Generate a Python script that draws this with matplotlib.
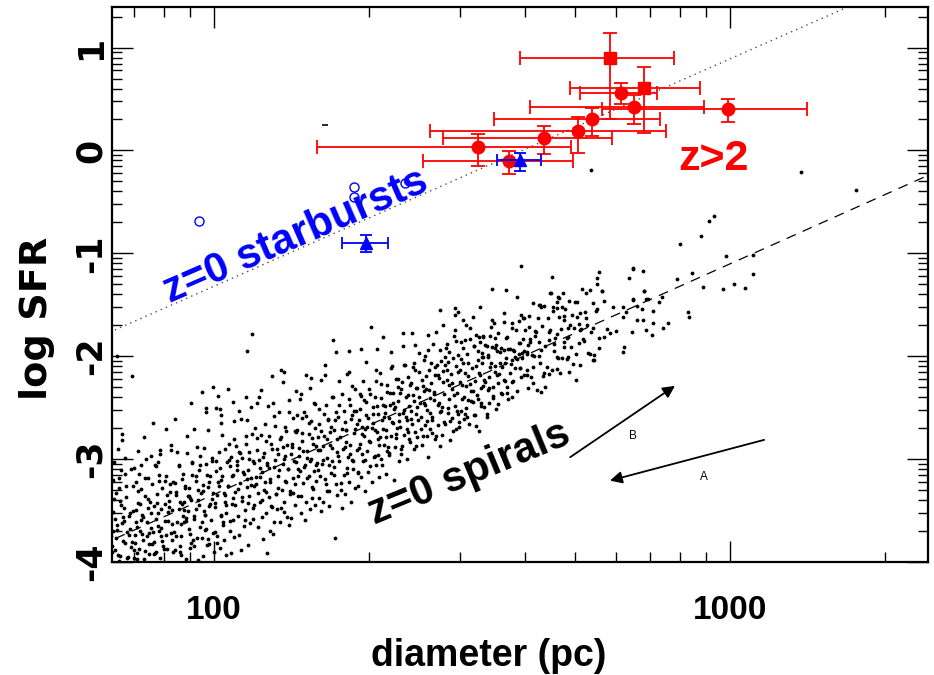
import numpy as np
import matplotlib
matplotlib.use('Agg')
import matplotlib.pyplot as plt
from matplotlib import font_manager
from matplotlib.ticker import FixedLocator, NullFormatter

# z>2 galaxies: diameter (pc), diameter range, log SFR, log SFR range
hiz_sq_diam = [585, 682]
hiz_sq_diam_lo = [392, 490]
hiz_sq_diam_hi = [778, 875]
hiz_sq_sfr = [0.900, 0.604]
hiz_sq_sfr_lo = [0.306, 0.173]
hiz_sq_sfr_hi = [1.145, 0.814]

hiz_diam = [615, 650, 990, 541, 507, 435, 325, 373]
hiz_diam_lo = [512, 409, 564, 348, 262, 278, 158, 254]
hiz_diam_hi = [721, 891, 1409, 731, 751, 590, 492, 495]
hiz_sfr = [0.556, 0.426, 0.403, 0.306, 0.192, 0.124, 0.037, -0.099]
hiz_sfr_lo = [0.452, 0.258, 0.280, 0.144, -0.020, -0.034, -0.148, -0.228]
hiz_sfr_hi = [0.659, 0.539, 0.500, 0.413, 0.328, 0.238, 0.157, -0.002]

# z=0 starbursts
sb_tri_diam = [392, 197]
sb_tri_diam_lo = [353, 177]
sb_tri_diam_hi = [430, 217]
sb_tri_sfr = [-0.092, -0.900]
sb_tri_sfr_lo = [-0.196, -0.990]
sb_tri_sfr_hi = [-0.021, -0.820]
sb_open_diam = [93.5, 187, 187, 234]
sb_open_sfr = [-0.69, -0.36, -0.45, -0.32]

# reference relations
line_diam = [60, 2500]
sb_line_sfr = [-1.81, 1.77]
sp_line_sfr = [-3.84, -0.21]

# z=0 spirals: (log diameter, log SFR)
spiral_points = [
    (1.803,-3.905),(1.811,-3.642),(1.806,-3.388),(1.815,-3.991),(1.809,-3.771),(1.819,-3.102),(1.824,-3.563),(1.802,-3.848),
    (1.828,-2.992),(1.831,-3.709),(1.816,-3.284),(1.834,-4.018),(1.822,-3.617),(1.838,-3.852),(1.805,-3.206),(1.826,-3.471),
    (1.813,-3.931),(1.836,-3.736),(1.821,-2.818),(1.829,-3.263),(1.808,-3.582),(1.833,-3.947),(1.818,-3.405),(1.837,-3.524),
    (1.811,-2.001),(1.839,-3.094),(1.804,-3.698),(1.827,-3.812),(1.814,-2.902),(1.822,-2.755),
    (1.841,-2.190),(1.845,-3.881),(1.843,-3.507),(1.851,-3.969),(1.848,-3.226),(1.856,-3.699),(1.853,-2.917),(1.859,-3.591),
    (1.862,-4.008),(1.847,-3.818),(1.866,-3.362),(1.869,-3.752),(1.858,-3.061),(1.874,-3.922),(1.871,-3.478),(1.877,-3.668),
    (1.864,-2.788),(1.879,-3.829),(1.852,-3.311),(1.844,-3.957),(1.861,-3.548),(1.873,-3.719),(1.855,-3.142),(1.867,-3.893),
    (1.876,-3.415),(1.849,-3.607),(1.872,-3.184),(1.857,-3.433),(1.878,-2.965),(1.863,-3.786),
    (1.882,-2.645),(1.884,-3.809),(1.889,-3.426),(1.886,-3.914),(1.893,-3.158),(1.897,-3.667),(1.891,-3.521),(1.902,-3.996),
    (1.895,-2.951),(1.906,-3.738),(1.899,-3.281),(1.909,-3.875),(1.904,-3.598),(1.912,-3.405),(1.915,-4.025),(1.887,-3.071),
    (1.918,-3.784),(1.908,-3.352),(1.883,-3.927),(1.911,-3.514),(1.894,-3.695),(1.917,-2.866),(1.901,-3.842),(1.914,-3.239),
    (1.888,-3.582),(1.905,-3.211),(1.896,-3.961),(1.913,-3.462),(1.919,-3.635),(1.892,-3.025),(1.907,-2.712),(1.898,-3.744),
    (1.923,-3.706),(1.926,-3.318),(1.921,-3.898),(1.931,-3.484),(1.929,-2.934),(1.935,-3.627),(1.938,-3.195),(1.933,-3.846),
    (1.942,-3.419),(1.945,-3.975),(1.939,-3.557),(1.948,-2.776),(1.951,-3.684),(1.944,-3.263),(1.955,-3.812),(1.953,-3.379),
    (1.958,-3.041),(1.927,-3.748),(1.949,-3.506),(1.936,-3.928),(1.957,-3.151),(1.941,-3.609),(1.925,-2.608),(1.952,-3.355),
    (1.932,-3.069),(1.946,-3.572),(1.954,-3.866),(1.924,-3.228),(1.959,-3.784),(1.937,-3.441),(1.943,-4.003),(1.956,-2.457),
    (1.962,-3.586),(1.965,-3.214),(1.961,-3.847),(1.969,-3.398),(1.967,-2.879),(1.973,-3.655),(1.971,-3.104),(1.977,-3.766),
    (1.975,-3.332),(1.976,-2.352),(1.981,-3.508),(1.979,-3.938),(1.985,-3.043),(1.983,-3.691),(1.988,-3.271),(1.986,-3.831),
    (1.991,-3.455),(1.989,-2.718),(1.994,-3.596),(1.993,-3.165),(1.997,-3.722),(1.996,-3.391),(1.998,-2.298),(1.999,-3.905),
    (1.964,-3.486),(1.972,-2.965),(1.982,-3.544),(1.990,-3.822),(1.995,-3.014),(1.978,-3.249),(1.968,-3.981),(1.984,-2.545),
    (1.985,-2.506),
    (2.002,-3.468),(2.004,-3.119),(2.001,-3.706),(2.007,-2.384),(2.006,-3.346),(2.011,-3.864),(2.009,-2.931),(2.014,-3.552),
    (2.013,-3.203),(2.018,-3.644),(2.016,-2.765),(2.021,-3.416),(2.019,-3.789),(2.025,-3.031),(2.023,-3.521),(2.027,-2.314),
    (2.026,-3.262),(2.031,-3.697),(2.029,-2.855),(2.034,-3.436),(2.032,-3.911),(2.037,-3.155),(2.036,-3.588),(2.039,-2.629),
    (2.005,-3.815),(2.012,-2.513),(2.022,-3.344),(2.030,-3.066),(2.038,-3.755),(2.017,-3.612),(2.008,-3.227),(2.033,-2.982),
    (2.024,-3.928),(2.003,-2.506),(2.013,-2.571),
    (2.041,-3.318),(2.043,-2.874),(2.046,-3.552),(2.044,-3.102),(2.049,-3.741),(2.052,-2.611),(2.050,-3.229),(2.055,-3.406),
    (2.054,-2.985),(2.058,-3.653),(2.057,-3.147),(2.061,-2.772),(2.060,-3.492),(2.064,-1.950),(2.063,-3.271),(2.066,-3.838),
    (2.068,-2.934),(2.067,-3.363),(2.071,-2.489),(2.073,-1.782),(2.072,-3.185),(2.075,-3.584),(2.076,-3.021),(2.079,-2.698),
    (2.078,-3.442),(2.045,-3.016),(2.053,-3.887),(2.062,-2.392),(2.070,-3.617),(2.077,-3.266),(2.048,-2.535),(2.065,-3.105),
    (2.081,-3.237),(2.083,-2.791),(2.085,-3.658),(2.087,-3.012),(2.089,-3.415),(2.090,-2.327),(2.092,-3.124),(2.094,-3.781),
    (2.096,-2.943),(2.097,-3.296),(2.099,-2.662),(2.101,-3.527),(2.103,-3.058),(2.104,-2.488),(2.106,-3.372),(2.108,-3.189),
    (2.109,-3.701),(2.111,-2.856),(2.113,-3.463),(2.114,-3.727),(2.116,-2.584),(2.118,-3.013),(2.119,-3.335),(2.084,-2.452),
    (2.093,-3.564),(2.100,-2.821),(2.107,-3.082),(2.112,-2.197),(2.117,-3.612),(2.088,-3.173),(2.102,-3.915),
    (2.121,-3.482),(2.122,-2.905),(2.124,-3.163),(2.126,-2.538),(2.127,-3.609),(2.129,-2.781),(2.131,-3.304),(2.133,-3.047),
    (2.134,-2.246),(2.136,-3.412),(2.138,-2.683),(2.139,-3.225),(2.141,-3.561),(2.142,-2.862),(2.144,-3.098),(2.146,-2.426),
    (2.147,-3.337),(2.149,-2.951),(2.150,-3.575),(2.152,-3.182),(2.153,-2.604),(2.155,-3.015),(2.157,-3.448),(2.158,-2.741),
    (2.123,-3.278),(2.130,-2.132),(2.137,-2.972),(2.145,-3.644),(2.151,-2.857),(2.156,-3.246),(2.159,-2.337),(2.135,-3.517),
    (2.161,-2.718),(2.163,-3.357),(2.164,-2.972),(2.166,-3.114),(2.168,-2.369),(2.169,-3.526),(2.171,-2.828),(2.173,-3.232),
    (2.174,-2.544),(2.176,-3.061),(2.178,-3.421),(2.179,-2.185),(2.181,-2.917),(2.183,-3.168),(2.184,-2.647),(2.186,-3.484),
    (2.188,-3.003),(2.189,-2.791),(2.191,-3.295),(2.193,-2.458),(2.194,-3.118),(2.196,-3.447),(2.197,-2.876),(2.199,-3.037),
    (2.162,-3.093),(2.170,-2.601),(2.177,-3.592),(2.185,-2.311),(2.190,-3.377),(2.195,-2.702),(2.198,-3.209),(2.180,-2.994),
    (2.201,-3.106),(2.203,-2.659),(2.204,-3.381),(2.206,-2.914),(2.208,-2.227),(2.209,-3.052),(2.211,-3.412),(2.213,-2.774),
    (2.214,-3.195),(2.216,-2.476),(2.218,-2.988),(2.219,-3.306),(2.221,-2.612),(2.223,-3.458),(2.224,-2.865),(2.226,-3.137),
    (2.228,-2.393),(2.229,-3.019),(2.231,-1.842),(2.232,-2.718),(2.234,-3.769),(2.236,-3.246),(2.237,-2.541),(2.239,-2.932),
    (2.202,-2.785),(2.207,-3.504),(2.215,-2.083),(2.222,-3.314),(2.227,-2.691),(2.233,-3.074),(2.238,-3.345),(2.212,-2.873),
    (2.241,-2.593),(2.243,-3.021),(2.244,-2.782),(2.246,-3.305),(2.248,-2.367),(2.249,-2.904),(2.251,-3.158),(2.253,-2.638),
    (2.254,-3.342),(2.256,-2.716),(2.258,-2.175),(2.259,-2.984),(2.261,-3.227),(2.263,-2.478),(2.264,-2.861),(2.266,-3.416),
    (2.268,-2.571),(2.269,-3.093),(2.271,-2.742),(2.273,-2.322),(2.274,-3.276),(2.276,-2.908),(2.277,-2.654),(2.279,-3.131),
    (2.242,-2.236),(2.247,-3.478),(2.255,-2.829),(2.262,-1.953),(2.267,-3.011),(2.272,-2.535),(2.278,-3.263),(2.257,-3.087),
    (2.281,-2.893),(2.283,-2.512),(2.284,-3.174),(2.286,-2.687),(2.288,-2.238),(2.289,-3.016),(2.291,-2.774),(2.293,-3.312),
    (2.294,-2.445),(2.296,-2.921),(2.298,-2.604),(2.299,-3.128),(2.301,-2.317),(2.303,-2.835),(2.305,-1.719),(2.306,-3.226),
    (2.308,-2.563),(2.309,-2.978),(2.311,-2.721),(2.313,-2.138),(2.314,-3.058),(2.316,-2.482),(2.318,-2.806),(2.319,-3.177),
    (2.282,-2.364),(2.287,-2.951),(2.295,-2.059),(2.302,-3.069),(2.307,-2.648),(2.312,-2.392),(2.317,-2.957),(2.292,-2.709),
    (2.321,-2.785),(2.323,-2.403),(2.324,-2.996),(2.326,-2.617),(2.328,-1.816),(2.329,-2.864),(2.331,-2.482),(2.333,-3.145),
    (2.334,-2.716),(2.336,-2.281),(2.338,-2.598),(2.339,-2.937),(2.341,-2.354),(2.343,-2.775),(2.344,-2.091),(2.346,-2.649),
    (2.348,-3.202),(2.349,-2.513),(2.351,-2.882),(2.353,-2.226),(2.354,-2.694),(2.356,-2.431),(2.358,-3.017),(2.359,-2.562),
    (2.322,-2.164),(2.327,-2.704),(2.335,-2.921),(2.342,-1.958),(2.347,-2.459),(2.352,-2.759),(2.357,-2.302),(2.332,-2.553),
    (2.361,-2.692),(2.363,-2.318),(2.364,-2.871),(2.366,-2.547),(2.368,-2.083),(2.369,-2.763),(2.371,-2.401),(2.373,-2.995),
    (2.374,-2.616),(2.376,-2.202),(2.378,-2.484),(2.379,-2.829),(2.381,-2.257),(2.383,-1.777),(2.384,-2.658),(2.386,-2.372),
    (2.388,-2.903),(2.389,-2.129),(2.391,-2.566),(2.393,-2.788),(2.394,-2.311),(2.396,-2.624),(2.398,-1.972),(2.399,-2.452),
    (2.362,-2.948),(2.367,-1.904),(2.375,-2.736),(2.382,-2.528),(2.387,-2.066),(2.392,-2.875),(2.397,-2.392),(2.372,-2.587),
    (2.401,-2.586),(2.403,-2.227),(2.404,-2.774),(2.406,-2.452),(2.408,-1.998),(2.409,-2.665),(2.411,-2.314),(2.413,-2.518),
    (2.415,-2.976),(2.416,-2.135),(2.418,-2.403),(2.419,-2.712),(2.421,-2.262),(2.423,-2.591),(2.424,-1.883),(2.426,-2.346),
    (2.428,-2.809),(2.429,-2.178),(2.431,-1.761),(2.433,-2.477),(2.434,-2.664),(2.436,-2.212),(2.438,-2.539),(2.439,-2.051),
    (2.402,-2.861),(2.407,-2.342),(2.414,-1.936),(2.422,-2.751),(2.427,-2.424),(2.432,-2.087),(2.437,-2.871),(2.412,-2.629),
    (2.441,-2.493),(2.443,-2.141),(2.444,-1.696),(2.446,-2.367),(2.448,-2.662),(2.449,-1.921),(2.451,-2.228),(2.453,-2.547),
    (2.454,-2.056),(2.456,-2.412),(2.457,-2.814),(2.459,-2.169),(2.461,-2.596),(2.462,-2.322),(2.464,-1.807),(2.466,-2.482),
    (2.468,-2.703),(2.469,-2.095),(2.471,-2.361),(2.473,-1.987),(2.474,-2.635),(2.476,-2.248),(2.478,-2.529),(2.479,-1.858),
    (2.442,-2.768),(2.447,-2.009),(2.455,-2.279),(2.463,-2.731),(2.467,-1.742),(2.472,-2.557),(2.477,-2.136),(2.452,-1.882),
    (2.481,-2.416),(2.483,-2.067),(2.484,-2.614),(2.486,-1.842),(2.488,-2.289),(2.489,-2.503),(2.491,-1.976),(2.493,-2.194),
    (2.494,-2.657),(2.496,-1.728),(2.498,-2.335),(2.499,-2.117),(2.501,-2.448),(2.503,-1.903),(2.504,-2.572),(2.506,-2.241),
    (2.508,-1.789),(2.509,-2.379),(2.511,-2.035),(2.513,-2.726),(2.514,-2.164),(2.516,-1.857),(2.518,-2.453),(2.519,-2.012),
    (2.482,-1.652),(2.487,-2.558),(2.495,-2.273),(2.502,-1.615),(2.507,-2.682),(2.512,-1.954),(2.517,-2.311),(2.492,-2.428),
    (2.467,-1.534),(2.472,-1.573),(2.524,-2.498),(2.533,-2.455),(2.546,-2.517),(2.528,-2.562),(2.551,-2.468),
    (2.594,-1.122),(2.654,-1.233),(2.652,-1.388),(2.669,-1.430),(2.656,-1.518),(2.665,-1.534),(2.674,-1.524),(2.630,-1.501),
    (2.633,-1.524),(2.679,-1.608),(2.679,-1.647),(2.811,-1.152),(2.832,-1.168),(2.805,-1.242),(2.752,-1.365),(2.756,-1.463),
    (2.774,-1.524),(2.793,-1.518),(2.798,-1.566),(2.811,-1.453),(2.833,-1.365),(2.819,-1.511),(2.830,-1.544),(2.838,-1.446),
    (2.850,-1.560),(2.868,-1.420),(2.862,-1.476),(2.820,-1.647),(2.831,-1.647),(2.850,-1.680),(2.870,-1.728),(2.879,-1.680),
    (2.838,-1.744),(2.848,-1.793),(2.809,-1.761),(2.792,-1.621),(2.779,-1.751),(2.767,-1.777),(2.756,-1.809),(2.761,-1.735),
    (2.742,-1.544),(2.735,-1.728),(2.721,-1.631),(2.709,-1.576),(2.704,-1.621),(2.711,-1.738),(2.708,-1.868),(2.685,-1.816),
    (2.664,-1.783),(2.650,-1.761),(2.650,-1.842),(2.659,-1.884),(2.678,-1.906),(2.685,-2.004),(2.664,-2.004),(2.674,-2.020),
    (2.729,-1.978),(2.737,-2.036),(2.795,-1.906),(2.793,-1.961),(2.633,-1.939),(2.630,-1.997),(2.622,-1.754),(2.622,-1.803),
    (2.612,-1.835),(2.598,-1.835),(2.592,-1.874),(2.609,-1.890),(2.601,-1.945),(2.590,-1.978),(2.607,-1.981),(2.616,-1.987),
    (2.596,-2.020),(2.587,-2.029),(2.577,-2.036),(2.583,-2.010),(2.579,-1.939),(2.570,-1.932),(2.561,-1.939),(2.554,-1.955),
    (2.549,-1.945),(2.545,-1.923),(2.538,-1.906),(2.528,-1.900),(2.530,-2.004),(2.522,-2.004),(2.519,-2.068),(2.545,-2.094),
    (2.554,-2.068),(2.564,-2.062),(2.557,-2.101),(2.535,-2.101),(2.548,-2.182),(2.532,-2.198),(2.525,-2.247),(2.522,-2.289),
    (2.530,-2.328),(2.541,-2.295),(2.551,-2.256),(2.561,-2.230),(2.574,-2.166),(2.583,-2.117),(2.592,-2.117),(2.594,-2.198),
    (2.606,-2.133),(2.606,-2.182),(2.619,-2.107),(2.640,-2.159),(2.650,-2.172),(2.665,-2.127),(2.688,-2.149),(2.701,-2.230),
    (2.641,-2.295),(2.633,-2.350),(2.619,-2.263),(2.577,-2.247),(2.567,-2.295),(2.556,-2.360),(2.567,-2.360),(2.577,-2.399),
    (2.541,-2.408),(2.522,-1.803),(2.538,-1.647),(2.536,-1.718),(2.561,-1.576),(2.577,-1.728),(2.590,-1.654),(2.601,-1.631),
    (2.611,-1.718),(2.545,-1.825),(2.566,-1.825),(2.522,-1.809),(2.632,-1.502),(2.651,-1.388),(2.667,-1.421),(2.683,-1.825),
    (2.709,-1.745),(2.735,-2.036),(2.599,-1.631),(2.700,-1.470),(2.720,-1.390),(2.742,-1.300),(2.690,-1.700),(2.715,-1.830),
    (2.745,-1.920),
    (2.730,-0.190),(3.138,-0.206),(3.245,-0.384),(2.969,-0.634),(2.959,-0.682),(2.943,-0.831),(2.902,-0.912),(2.992,-1.025),
    (3.045,-1.016),(3.045,-1.200),(2.927,-1.193),(2.897,-1.252),(2.948,-1.323),(2.986,-1.343),(3.008,-1.297),(3.028,-1.339),
    (2.745,-1.178),(2.751,-1.365),(2.811,-1.145),(2.834,-1.365),(2.811,-1.440),(2.840,-1.446),(2.919,-1.570),(2.921,-1.620),
    # denser core of the spiral cloud
    (1.801,-3.752),(1.804,-3.511),(1.807,-3.884),(1.810,-3.325),(1.812,-3.689),(1.817,-3.943),(1.820,-3.447),(1.823,-3.798),
    (1.825,-3.602),(1.830,-3.371),(1.832,-3.957),(1.835,-3.553),(1.837,-3.678),(1.840,-3.802),(1.843,-3.262),(1.846,-3.734),
    (1.848,-3.491),(1.850,-3.916),(1.806,-3.031),(1.815,-3.185),(1.828,-3.145),(1.844,-3.084),
    (1.851,-3.655),(1.853,-3.422),(1.855,-3.871),(1.858,-3.294),(1.860,-3.731),(1.862,-3.563),(1.865,-3.972),(1.867,-3.187),
    (1.870,-3.614),(1.872,-3.386),(1.874,-3.826),(1.877,-3.519),(1.879,-3.246),(1.882,-3.705),(1.884,-3.458),(1.887,-3.902),
    (1.889,-3.337),(1.892,-3.648),(1.894,-3.215),(1.897,-3.481),(1.899,-3.793),(1.868,-2.995),(1.885,-3.062),(1.896,-2.915),
    (1.902,-3.869),(1.905,-3.432),(1.907,-3.168),(1.911,-3.599),(1.914,-3.322),(1.916,-3.718),(1.919,-3.491),(1.921,-3.226),
    (1.924,-3.880),(1.926,-3.345),(1.929,-3.609),(1.931,-3.054),(1.934,-3.417),(1.936,-3.743),(1.939,-3.146),(1.941,-3.492),
    (1.943,-3.277),(1.946,-3.601),(1.948,-2.936),(1.950,-3.362),(1.917,-2.915),(1.933,-3.900),
    (1.951,-3.279),(1.953,-3.725),(1.956,-3.398),(1.958,-3.024),(1.961,-3.557),(1.964,-3.160),(1.966,-3.766),(1.968,-3.301),
    (1.971,-3.444),(1.973,-3.060),(1.976,-3.613),(1.978,-3.309),(1.981,-2.892),(1.983,-3.548),(1.986,-3.151),(1.988,-3.776),
    (1.991,-3.220),(1.993,-3.435),(1.996,-2.989),(1.998,-3.334),(1.962,-2.705),(1.984,-3.675),
    (2.001,-3.427),(2.004,-3.021),(2.006,-3.746),(2.009,-3.260),(2.011,-3.085),(2.014,-3.548),(2.016,-3.164),(2.019,-3.327),
    (2.021,-2.903),(2.024,-3.446),(2.026,-3.262),(2.029,-3.005),(2.031,-3.600),(2.034,-3.164),(2.036,-3.379),(2.039,-2.802),
    (2.041,-3.448),(2.044,-3.061),(2.046,-3.287),(2.049,-2.930),(2.013,-2.651),(2.037,-2.447),
    (2.051,-2.945),(2.054,-3.369),(2.056,-3.124),(2.059,-3.588),(2.061,-2.853),(2.063,-3.189),(2.066,-3.422),(2.068,-2.997),
    (2.071,-3.250),(2.073,-2.756),(2.076,-3.479),(2.078,-3.035),(2.081,-3.178),(2.083,-2.914),(2.085,-3.329),(2.088,-3.082),
    (2.090,-2.768),(2.093,-3.401),(2.095,-2.977),(2.098,-3.220),(2.064,-2.616),(2.087,-2.395),
    (2.101,-3.323),(2.103,-3.039),(2.106,-2.772),(2.108,-3.218),(2.111,-3.451),(2.113,-2.906),(2.116,-3.080),(2.118,-2.675),
    (2.120,-3.341),(2.123,-2.954),(2.125,-3.110),(2.128,-2.803),(2.130,-3.478),(2.133,-2.882),(2.135,-2.997),(2.138,-3.210),
    (2.140,-2.726),(2.143,-3.099),(2.145,-2.545),(2.148,-3.308),(2.114,-2.454),(2.136,-2.155),
    (2.151,-2.881),(2.153,-3.327),(2.156,-2.730),(2.158,-3.025),(2.161,-2.569),(2.163,-3.164),(2.165,-2.890),(2.168,-3.363),
    (2.170,-2.749),(2.173,-2.922),(2.175,-3.078),(2.178,-2.581),(2.180,-3.186),(2.183,-2.760),(2.185,-3.015),(2.187,-2.631),
    (2.190,-3.274),(2.192,-2.850),(2.195,-2.463),(2.197,-3.058),(2.166,-2.418),(2.188,-2.208),
    (2.201,-2.909),(2.204,-2.512),(2.206,-3.168),(2.208,-2.723),(2.211,-3.007),(2.213,-2.562),(2.216,-3.246),(2.218,-2.801),
    (2.221,-2.624),(2.223,-3.060),(2.225,-2.735),(2.228,-2.889),(2.230,-2.394),(2.233,-3.158),(2.235,-2.623),(2.238,-2.806),
    (2.240,-2.972),(2.243,-2.475),(2.245,-3.231),(2.248,-2.704),(2.214,-2.180),(2.236,-1.961),
    (2.251,-2.537),(2.253,-2.883),(2.256,-2.716),(2.258,-3.132),(2.261,-2.415),(2.263,-2.951),(2.266,-2.614),(2.268,-2.289),
    (2.270,-3.015),(2.273,-2.708),(2.275,-2.534),(2.278,-3.127),(2.280,-2.622),(2.283,-2.856),(2.285,-2.391),(2.287,-2.757),
    (2.290,-2.430),(2.292,-3.005),(2.295,-2.569),(2.297,-2.684),(2.262,-2.153),(2.284,-1.934),
    (2.301,-2.825),(2.303,-2.371),(2.306,-2.694),(2.308,-2.490),(2.311,-2.973),(2.313,-2.238),(2.315,-2.734),(2.318,-2.557),
    (2.320,-2.863),(2.323,-2.266),(2.325,-3.062),(2.328,-2.475),(2.330,-2.590),(2.333,-2.784),(2.335,-2.349),(2.337,-2.885),
    (2.340,-2.478),(2.342,-2.114),(2.345,-2.637),(2.347,-2.362),(2.316,-1.932),(2.338,-2.962),
    (2.351,-2.493),(2.353,-2.799),(2.356,-2.222),(2.358,-2.628),(2.360,-2.353),(2.363,-2.906),(2.365,-2.252),(2.368,-2.525),
    (2.370,-2.081),(2.373,-2.704),(2.375,-2.379),(2.377,-2.805),(2.380,-2.278),(2.382,-2.614),(2.385,-2.107),(2.387,-2.433),
    (2.390,-2.736),(2.392,-2.311),(2.394,-2.497),(2.397,-2.150),(2.366,-1.770),(2.389,-1.888),
    (2.401,-2.711),(2.404,-2.294),(2.406,-2.040),(2.409,-2.473),(2.411,-2.189),(2.413,-2.774),(2.416,-2.328),(2.418,-2.553),
    (2.421,-2.066),(2.423,-2.622),(2.426,-2.365),(2.428,-2.101),(2.430,-2.776),(2.433,-2.180),(2.435,-2.455),(2.438,-1.938),
    (2.440,-2.534),(2.443,-2.247),(2.445,-2.643),(2.447,-2.088),(2.414,-1.792),(2.437,-1.550),
    (2.451,-2.129),(2.453,-2.505),(2.456,-1.958),(2.458,-2.634),(2.461,-2.257),(2.463,-2.013),(2.465,-2.378),(2.468,-1.851),
    (2.470,-2.537),(2.473,-2.150),(2.475,-2.686),(2.478,-2.029),(2.480,-2.284),(2.482,-1.920),(2.485,-2.393),(2.487,-2.159),
    (2.490,-2.592),(2.492,-2.068),(2.495,-1.831),(2.497,-2.437),(2.466,-1.596),(2.488,-1.696),
    (2.501,-2.337),(2.503,-1.903),(2.506,-2.576),(2.508,-2.092),(2.511,-2.415),(2.513,-1.811),(2.515,-2.186),(2.518,-2.479),
    (2.520,-1.965),(2.523,-2.228),(2.525,-1.894),(2.528,-2.587),(2.530,-1.992),(2.532,-2.308),(2.535,-1.801),(2.537,-2.067),
    (2.540,-2.390),(2.542,-1.676),(2.545,-2.149),(2.547,-1.894),(2.516,-1.524),(2.538,-1.344),
    (2.551,-1.775),(2.553,-2.171),(2.556,-1.924),(2.558,-2.370),(2.561,-1.663),(2.563,-2.239),(2.565,-2.014),(2.568,-1.817),
    (2.570,-2.413),(2.573,-1.926),(2.575,-2.072),(2.578,-1.675),(2.580,-2.240),(2.582,-1.946),(2.585,-1.749),(2.587,-2.335),
    (2.590,-1.868),(2.592,-2.114),(2.595,-1.597),(2.597,-1.972),(2.566,-1.352),(2.588,-1.422),
    (2.601,-2.183),(2.603,-1.749),(2.606,-1.962),(2.608,-2.308),(2.611,-1.611),(2.613,-1.857),(2.615,-2.202),(2.618,-1.485),
    (2.620,-2.001),(2.623,-1.764),(2.625,-2.330),(2.628,-1.633),(2.630,-1.858),(2.632,-2.064),(2.635,-1.707),(2.637,-2.193),
    (2.640,-1.516),(2.642,-1.902),(2.645,-2.105),(2.647,-1.630),
    (2.651,-1.741),(2.654,-2.135),(2.656,-1.560),(2.659,-1.954),(2.661,-1.819),(2.664,-1.472),(2.666,-2.018),(2.668,-1.623),
    (2.671,-2.167),(2.673,-1.732),(2.676,-1.385),(2.678,-1.861),(2.681,-1.544),(2.683,-2.030),(2.686,-1.723),(2.688,-1.459),
    (2.691,-1.912),(2.693,-1.597),(2.696,-2.071),(2.698,-1.726),
    (2.701,-1.979),(2.704,-1.473),(2.707,-1.686),(2.710,-2.089),(2.713,-1.342),(2.716,-1.856),(2.719,-1.569),(2.722,-1.692),
    (2.725,-1.965),(2.728,-1.359),(2.731,-1.762),(2.734,-1.485),(2.737,-1.988),(2.740,-1.562),(2.743,-1.235),(2.746,-1.818),
]
stray_diam = [164]
stray_sfr = [0.25]

spiral_logd = np.array([p[0] for p in spiral_points])
spiral_sfr = np.array([p[1] for p in spiral_points])

text_font = ['Liberation Sans', 'DejaVu Sans']
installed = {f.name for f in font_manager.fontManager.ttflist}
if 'Liberation Sans Narrow' in installed:
    xlab_font, xtick_size, xlab_size = ['Liberation Sans Narrow', 'DejaVu Sans'], 28, 31
else:
    xlab_font, xtick_size, xlab_size = text_font, 24, 27

fig = plt.figure(figsize=(9.34, 6.75), dpi=100)
ax = fig.add_axes([0.1199, 0.1674, 0.8737, 0.8228])

ax.scatter(10 ** spiral_logd, spiral_sfr, s=7.5, c='k', marker='o', linewidths=0, zorder=2)
ax.plot(stray_diam, stray_sfr, marker='_', color='k', ms=5, mew=1.2, ls='none')

ax.plot(line_diam, sb_line_sfr, color='0.3', lw=1.0, ls=(0, (1, 3)), zorder=1)
ax.plot(line_diam, sp_line_sfr, color='k', lw=0.9, ls=(0, (8, 6)), zorder=1)


def err(v, lo, hi):
    v = np.asarray(v)
    return [v - np.asarray(lo), np.asarray(hi) - v]


ax.errorbar(hiz_diam, hiz_sfr, xerr=err(hiz_diam, hiz_diam_lo, hiz_diam_hi),
            yerr=err(hiz_sfr, hiz_sfr_lo, hiz_sfr_hi), fmt='o', color='red',
            ms=9, capsize=5, elinewidth=1.3, capthick=1.3, zorder=3)
ax.errorbar(hiz_sq_diam, hiz_sq_sfr, xerr=err(hiz_sq_diam, hiz_sq_diam_lo, hiz_sq_diam_hi),
            yerr=err(hiz_sq_sfr, hiz_sq_sfr_lo, hiz_sq_sfr_hi), fmt='s', color='red',
            ms=8, capsize=5, elinewidth=1.3, capthick=1.3, zorder=3)
ax.errorbar(sb_tri_diam, sb_tri_sfr, xerr=err(sb_tri_diam, sb_tri_diam_lo, sb_tri_diam_hi),
            yerr=err(sb_tri_sfr, sb_tri_sfr_lo, sb_tri_sfr_hi), fmt='^', color='blue',
            ms=9, capsize=4, elinewidth=1.3, capthick=1.3, zorder=4)
ax.plot(sb_open_diam, sb_open_sfr, 'o', mfc='none', mec='blue', ms=6.5, mew=1.0, zorder=4)

# arrows A and B
ax.annotate('', xy=(782, -2.288), xytext=(490, -2.981),
            arrowprops=dict(arrowstyle='-|>', color='k', lw=1.3, mutation_scale=18,
                            shrinkA=0, shrinkB=0))
ax.annotate('', xy=(585, -3.209), xytext=(1164, -2.813),
            arrowprops=dict(arrowstyle='-|>', color='k', lw=1.3, mutation_scale=18,
                            shrinkA=0, shrinkB=0))
ax.text(649, -2.775, 'B', fontsize=8.5, ha='center', va='center', family=text_font)
ax.text(889, -3.170, 'A', fontsize=8.5, ha='center', va='center', family=text_font)

ax.text(82.2, -1.484, 'z=0 starbursts', color='blue', fontsize=30, fontweight='bold',
        family=text_font, rotation=23.5, rotation_mode='anchor', ha='left', va='baseline')
ax.text(205, -3.64, 'z=0 spirals', color='black', fontsize=30, fontweight='bold',
        family=text_font, rotation=22.5, rotation_mode='anchor', ha='left', va='baseline')
ax.text(793, -0.19, 'z>2', color='red', fontsize=31, fontweight='bold',
        family=text_font, ha='left', va='baseline')

ax.set_xscale('log')
ax.set_xlim(63.4, 2419)
ax.set_ylim(-4.0, 1.398)

ax.xaxis.set_major_locator(FixedLocator([100, 1000]))
ax.xaxis.set_minor_locator(FixedLocator([70, 80, 90, 200, 300, 400, 500, 600, 700, 800, 900, 2000]))
ax.xaxis.set_minor_formatter(NullFormatter())
ax.set_xticklabels(['100', '1000'], family=xlab_font, fontweight='bold', fontsize=xtick_size)

ax.yaxis.set_major_locator(FixedLocator([-4, -3, -2, -1, 0, 1]))
yminor = [n + np.log10(k) for n in range(-5, 2) for k in range(2, 10)]
ax.yaxis.set_minor_locator(FixedLocator([v for v in yminor if -4 < v < 1.398]))
ax.set_yticklabels(['-4', '-3', '-2', '-1', '0', '1'], family='DejaVu Sans',
                   fontweight='bold', fontsize=25, rotation=90, va='center')

ax.tick_params(which='both', direction='in', top=True, right=True, color='k', width=1.0)
ax.tick_params(which='major', length=15)
ax.tick_params(which='minor', length=7)
ax.tick_params(axis='x', which='major', pad=24)
ax.tick_params(axis='y', which='major', pad=3)
for sp in ax.spines.values():
    sp.set_linewidth(1.6)

fig.text(489 / 934, 1 - 656 / 675, 'diameter (pc)', ha='center', va='center',
         family=xlab_font, fontweight='bold', fontsize=xlab_size)
fig.text(37 / 934, 1 - 318 / 675, 'log SFR', ha='center', va='center', rotation=90,
         family='DejaVu Sans', fontweight='bold', fontsize=27.5)

fig.savefig('out.png', dpi=100)
